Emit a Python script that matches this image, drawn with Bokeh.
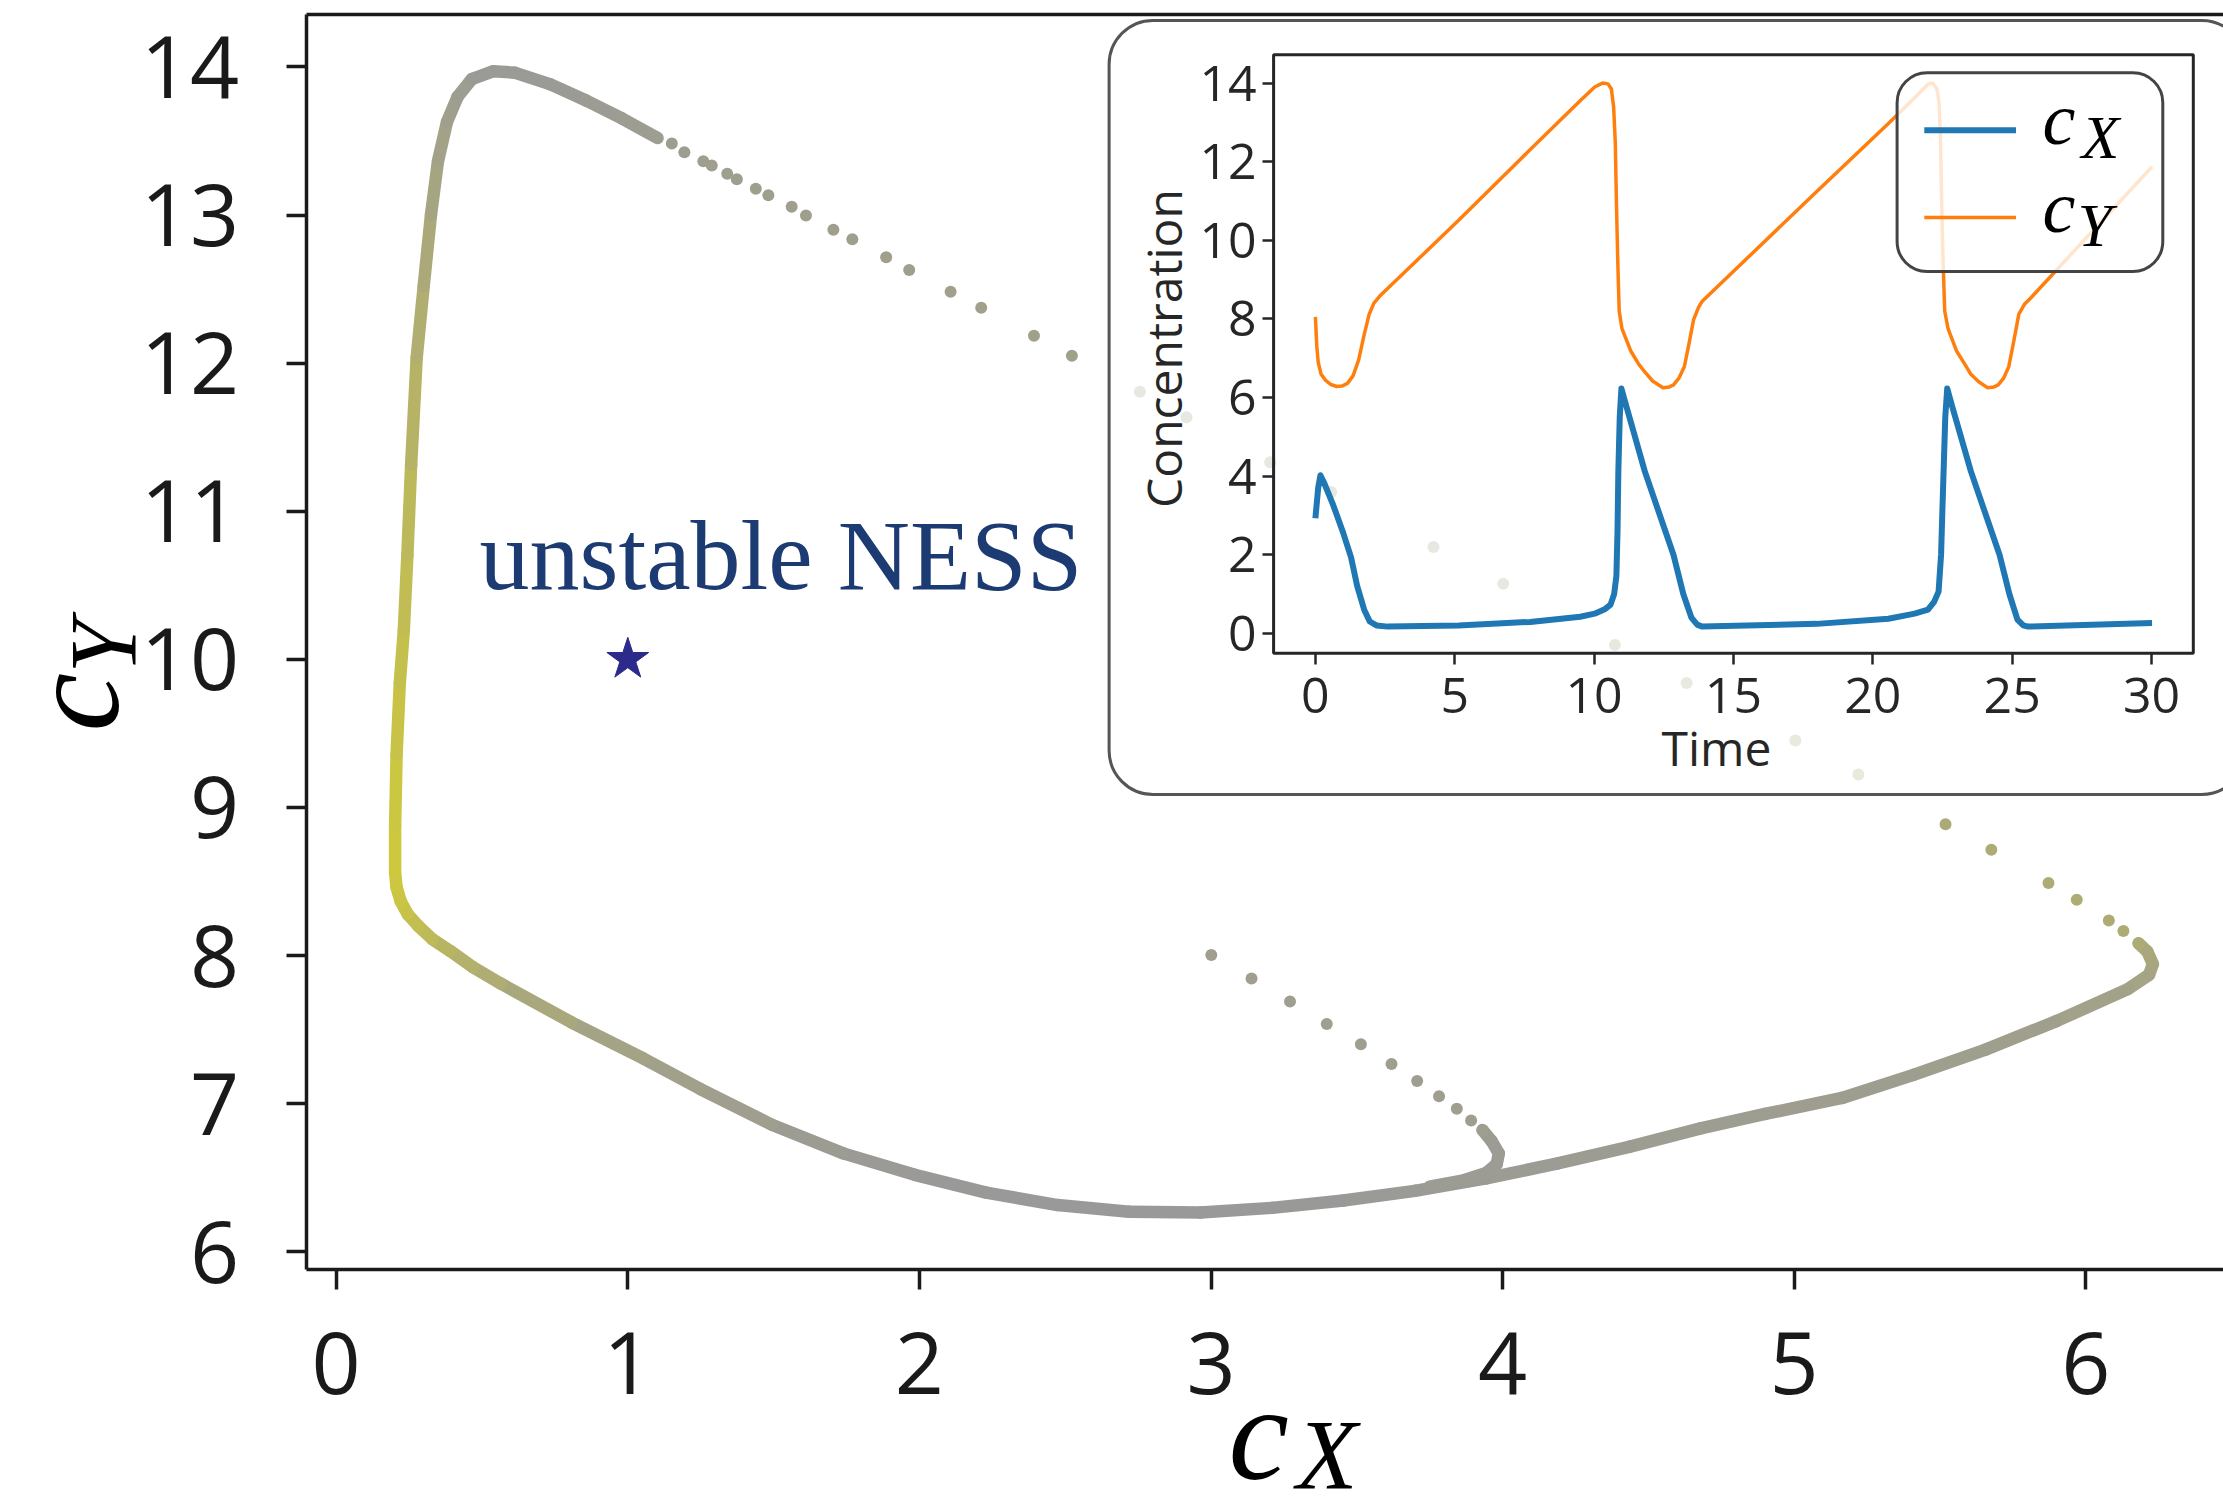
import numpy as np
from bokeh.plotting import figure
from bokeh.models import Range1d, LinearAxis, FixedTicker, ColumnDataSource, LinearColorMapper
from bokeh.transform import transform
from bokeh.core.properties import value
from bokeh.embed import file_html
from bokeh.resources import INLINE

# ------------------------------------------------------------------ data
# dense part of the limit cycle: c_X, c_Y and colour weight
cycle_cx = [6.181, 6.211, 6.230, 6.217, 6.144, 5.899, 5.654, 5.409, 5.164, 4.900,
            4.679, 4.434, 4.189, 3.944, 3.699, 3.454, 3.209, 2.964, 2.719, 2.474,
            2.229, 1.984, 1.739, 1.494, 1.249, 1.053, 0.808, 0.563, 0.470, 0.392,
            0.330, 0.282, 0.245, 0.221, 0.207, 0.202, 0.202, 0.207, 0.218, 0.232,
            0.244, 0.257, 0.276, 0.300, 0.325, 0.349, 0.380, 0.416, 0.465, 0.539,
            0.612, 0.735, 0.857, 0.980, 1.102]
cycle_cy = [8.082, 8.027, 7.942, 7.870, 7.773, 7.557, 7.363, 7.194, 7.038, 6.930,
            6.833, 6.708, 6.596, 6.495, 6.411, 6.346, 6.296, 6.265, 6.270, 6.315,
            6.399, 6.519, 6.664, 6.857, 7.098, 7.305, 7.547, 7.812, 7.920, 8.029,
            8.110, 8.198, 8.280, 8.367, 8.460, 8.560, 8.873, 9.355, 9.837, 10.200,
            10.700, 11.313, 12.037, 12.519, 13.001, 13.363, 13.629, 13.797, 13.918, 13.971,
            13.961, 13.882, 13.773, 13.652, 13.520]
cycle_w = [0.38, 0.35, 0.30, 0.26, 0.20, 0.15, 0.13, 0.11, 0.10, 0.09,
           0.08, 0.07, 0.06, 0.05, 0.04, 0.02, 0.00, 0.00, 0.00, 0.00,
           0.00, 0.02, 0.05, 0.09, 0.13, 0.17, 0.25, 0.38, 0.46, 0.55,
           0.65, 0.75, 0.83, 0.90, 0.96, 1.00, 1.00, 0.93, 0.86, 0.80,
           0.72, 0.62, 0.50, 0.40, 0.30, 0.22, 0.15, 0.10, 0.06, 0.03,
           0.02, 0.03, 0.05, 0.07, 0.09]

# sparse (fast) part of the cycle: sampled points
fast_cx = [1.151, 1.194, 1.259, 1.288, 1.341, 1.374, 1.439, 1.482, 1.562, 1.611,
           1.705, 1.770, 1.886, 1.965, 2.107, 2.212, 2.393, 2.523, 2.756, 2.916,
           3.203, 3.412, 3.763, 4.002, 4.385, 4.631, 5.004, 5.220, 5.519, 5.676,
           5.872, 5.969, 6.079, 6.129, 6.181]
fast_cy = [13.483, 13.423, 13.363, 13.334, 13.279, 13.242, 13.178, 13.134, 13.055, 12.997,
           12.900, 12.837, 12.714, 12.629, 12.481, 12.373, 12.184, 12.049, 11.807, 11.634,
           11.330, 11.129, 10.758, 10.510, 10.097, 9.840, 9.452, 9.222, 8.887, 8.714,
           8.490, 8.376, 8.236, 8.166, 8.082]
fast_w = [0.10, 0.10, 0.11, 0.11, 0.12, 0.12, 0.12, 0.12, 0.13, 0.13,
          0.13, 0.13, 0.14, 0.14, 0.15, 0.15, 0.16, 0.16, 0.18, 0.18,
          0.20, 0.20, 0.22, 0.23, 0.26, 0.27, 0.30, 0.32, 0.37, 0.38,
          0.39, 0.40, 0.40, 0.39, 0.38]

# transient from the initial condition (3, 8)
init_cx = [3.001, 3.139, 3.271, 3.397, 3.514, 3.619, 3.707, 3.782, 3.843, 3.892, 3.931]
init_cy = [8.003, 7.845, 7.689, 7.537, 7.400, 7.267, 7.153, 7.050, 6.966, 6.886, 6.821]
hook_cx = [3.931, 3.962, 3.987, 3.980, 3.944, 3.870, 3.750]
hook_cy = [6.821, 6.748, 6.664, 6.592, 6.532, 6.484, 6.440]
init_w = 0.11

# unstable non-equilibrium steady state
ness_cx = [1.0]
ness_cy = [10.0]

# inset time series
t_x = [0.00, 0.10, 0.18, 0.30, 0.64, 1.00, 1.28, 1.50, 1.75, 1.95, 2.19, 2.60, 5.14, 7.71,
       9.50, 10.02, 10.40, 10.59, 10.72, 10.80, 10.84, 10.87, 10.92, 10.98, 11.18, 11.82,
       12.85, 13.20, 13.49, 13.70, 13.88, 17.99, 20.56, 21.50, 21.98, 22.20, 22.36, 22.45,
       22.50, 22.54, 22.60, 22.67, 22.87, 23.52, 24.55, 24.90, 25.19, 25.40, 25.57, 30.02]
conc_x = [2.93, 3.70, 4.02, 3.85, 3.26, 2.55, 1.93, 1.20, 0.60, 0.30, 0.20, 0.17, 0.20, 0.29,
          0.42, 0.50, 0.62, 0.73, 1.00, 1.46, 2.60, 4.12, 5.50, 6.23, 5.72, 4.12,
          1.99, 1.00, 0.40, 0.22, 0.17, 0.24, 0.37, 0.50, 0.60, 0.80, 1.06, 2.00,
          3.20, 4.12, 5.50, 6.23, 5.72, 4.12, 1.99, 1.00, 0.35, 0.20, 0.17, 0.26]
t_y = [0.00, 0.05, 0.10, 0.20, 0.35, 0.55, 0.77, 0.95, 1.15, 1.35, 1.55, 1.75, 1.93, 2.10,
       2.31, 5.14, 7.71, 9.50, 10.02, 10.30, 10.50, 10.62, 10.70, 10.76, 10.80, 10.85, 10.90,
       11.00, 11.31, 11.60, 11.82, 12.10, 12.47, 12.70, 12.85, 13.05, 13.24, 13.40, 13.57,
       13.75, 13.88, 17.99, 20.56, 21.60, 21.98, 22.15, 22.30, 22.38, 22.43, 22.47, 22.52,
       22.58, 22.70, 23.00, 23.30, 23.52, 23.80, 24.11, 24.35, 24.50, 24.70, 24.88, 25.05,
       25.24, 25.45, 25.65, 30.02]
conc_y = [8.05, 7.30, 6.90, 6.60, 6.45, 6.33, 6.28, 6.29, 6.36, 6.55, 6.95, 7.60, 8.12, 8.40,
          8.58, 10.51, 12.31, 13.55, 13.90, 14.00, 13.98, 13.85, 13.40, 12.50, 11.00, 9.45, 8.20,
          7.75, 7.19, 6.85, 6.65, 6.42, 6.25, 6.27, 6.32, 6.50, 6.79, 7.35, 7.98,
          8.30, 8.45, 11.24, 12.97, 13.70, 13.97, 14.00, 13.85, 13.50, 12.50, 11.00, 9.50,
          8.20, 7.75, 7.19, 6.85, 6.59, 6.40, 6.25, 6.27, 6.32, 6.50, 6.79, 7.40,
          8.12, 8.38, 8.52, 11.87]

main_xticks = [0, 1, 2, 3, 4, 5, 6]
main_yticks = [6, 7, 8, 9, 10, 11, 12, 13, 14]
inset_xticks = [0, 5, 10, 15, 20, 25, 30]
inset_yticks = [0, 2, 4, 6, 8, 10, 12, 14]
legend_labels = [("c", "X"), ("c", "Y")]

# ------------------------------------------------------------------ layout (page pixels)
W, H = 2223, 1510


def mx(px): return (px - 335.7) / 291.6      # main plot, pixel -> c_X
def my(py): return 14 - (py - 66.4) / 148.1  # main plot, pixel -> c_Y
def ix(px): return (px - 1314.9) / 27.87     # inset, pixel -> time
def iy(py): return (632.8 - py) / 39.3       # inset, pixel -> concentration


SER_MID = 0.3375   # baseline -> middle offset (em), Liberation Serif
SAN_MID = 0.388    # baseline -> middle offset (em), Open Sans

p = figure(width=W, height=H, output_backend="svg", toolbar_location=None,
           x_range=Range1d(mx(0), mx(W)), y_range=Range1d(my(H), my(0)),
           x_axis_location=None, y_axis_location=None,
           min_border_left=0, min_border_right=0, min_border_top=0, min_border_bottom=0)
p.extra_x_ranges = {"ix": Range1d(ix(0), ix(W))}
p.extra_y_ranges = {"iy": Range1d(iy(H), iy(0))}
p.background_fill_color = "white"
p.border_fill_color = "white"
p.outline_line_color = None
p.grid.visible = False

AX = "#1a1a1a"
F_L, F_T, F_B = 305.7, 13.6, 1269.0   # main frame spines (pixels)

xax = LinearAxis(fixed_location=my(F_B), bounds=(mx(F_L), mx(W)), ticker=FixedTicker(ticks=main_xticks))
yax = LinearAxis(fixed_location=mx(F_L), bounds=(my(F_B), my(F_T)), ticker=FixedTicker(ticks=main_yticks))
tax = LinearAxis(fixed_location=my(F_T), bounds=(mx(F_L), mx(W)), ticker=FixedTicker(ticks=[]))
for ax in (xax, yax, tax):
    ax.axis_line_width = 3.5
    ax.axis_line_color = AX
    ax.major_tick_line_width = 3.5
    ax.major_tick_line_color = AX
    ax.major_tick_out = 20
    ax.major_tick_in = 0
    ax.minor_tick_line_color = None
    ax.major_label_text_font = "Open Sans"
    ax.major_label_text_font_size = "86px"
    ax.major_label_text_color = AX
xax.major_label_standoff = 42
yax.major_label_standoff = 47
p.add_layout(xax, "below")
p.add_layout(yax, "left")
p.add_layout(tax, "above")

# colour map for the trajectory (grey -> olive yellow)
lo = np.array([153, 153, 153])
hi = np.array([205, 200, 62])
palette = ["#%02x%02x%02x" % tuple(int(round(c)) for c in lo + (hi - lo) * k / 255.0) for k in range(256)]
cmap = LinearColorMapper(palette=palette, low=0.0, high=1.0)

sx, sy, sw = [], [], []
for i in range(len(cycle_cx) - 1):
    sx.append([cycle_cx[i], cycle_cx[i + 1]])
    sy.append([cycle_cy[i], cycle_cy[i + 1]])
    sw.append((cycle_w[i] + cycle_w[i + 1]) / 2)
for i in range(len(hook_cx) - 1):
    sx.append([hook_cx[i], hook_cx[i + 1]])
    sy.append([hook_cy[i], hook_cy[i + 1]])
    sw.append(0.06)
p.multi_line("xs", "ys", source=ColumnDataSource(dict(xs=sx, ys=sy, w=sw)), line_width=12.5,
             line_cap="round", line_join="round", line_color=transform("w", cmap))

dots = ColumnDataSource(dict(x=fast_cx + init_cx, y=fast_cy + init_cy,
                             w=fast_w + [init_w] * len(init_cx)))
p.scatter("x", "y", source=dots, size=12, line_color=None, fill_color=transform("w", cmap))

p.scatter(ness_cx, ness_cy, marker="star", size=44, fill_color="#2c2a8a", line_color="#2c2a8a")


def txt(xp, yp_base, s, font, fs, k, color="black", style="normal", align="left", angle=0.0, inset=False):
    """place text with its baseline at page pixel yp_base (or x for rotated text)."""
    if angle:
        xp_mid, yp_mid = xp - k * fs, yp_base
    else:
        xp_mid, yp_mid = xp, yp_base - k * fs
    if inset:
        kw = dict(x=[ix(xp_mid)], y=[iy(yp_mid)], x_range_name="ix", y_range_name="iy")
    else:
        kw = dict(x=[mx(xp_mid)], y=[my(yp_mid)])
    p.text(text=[s], text_font=value(font), text_font_size=value("%dpx" % fs), text_color=color,
           text_font_style=style, text_baseline="middle", text_align=align, angle=angle, **kw)


SERIF = "Liberation Serif"
txt(479, 589, "unstable NESS", SERIF, 100, SER_MID, color="#1d3b73")

# main axis labels (math-style italic), kept fully inside the canvas
txt(1228, 1478, "c", SERIF, 136, SER_MID, style="italic")
txt(1296, 1488, "X", SERIF, 100, SER_MID, style="italic")
txt(118, 731, "c", SERIF, 132, SER_MID, style="italic", angle=np.pi / 2)
txt(135, 673, "Y", SERIF, 96, SER_MID, style="italic", angle=np.pi / 2)

# ------------------------------------------------------------------ inset
R = dict(x_range_name="ix", y_range_name="iy")
p.quad(left=[ix(1108.6)], right=[ix(2245)], top=[iy(19.9)], bottom=[iy(794)],
       fill_color="white", fill_alpha=0.75, line_color="#555555", line_width=3,
       border_radius=44, **R)
p.quad(left=[-1.5], right=[31.5], top=[14.72], bottom=[-0.506],
       fill_color=None, line_color="#262626", line_width=3, **R)

p.line(t_x, conc_x, line_color="#1f77b4", line_width=6, line_join="round", **R)
p.line(t_y, conc_y, line_color="#ff7f0e", line_width=3.5, line_join="round", **R)

IC = "#262626"
xa = LinearAxis(x_range_name="ix", y_range_name="iy", fixed_location=-0.506,
                ticker=FixedTicker(ticks=inset_xticks))
ya = LinearAxis(x_range_name="ix", y_range_name="iy", fixed_location=-1.5,
                ticker=FixedTicker(ticks=inset_yticks))
for ax in (xa, ya):
    ax.axis_line_color = None
    ax.major_tick_line_width = 2.5
    ax.major_tick_line_color = IC
    ax.major_tick_out = 11
    ax.major_tick_in = 0
    ax.minor_tick_line_color = None
    ax.major_label_text_font = "Open Sans"
    ax.major_label_text_font_size = "50px"
    ax.major_label_text_color = IC
xa.major_label_standoff = 14
ya.major_label_standoff = 6
p.add_layout(xa, "below")
p.add_layout(ya, "left")

txt(1716, 766, "Time", "Open Sans", 48, SAN_MID, color=IC, align="center", inset=True)
txt(1182, 348, "Concentration", "Open Sans", 48, SAN_MID, color=IC, align="center",
    angle=np.pi / 2, inset=True)

# legend
p.quad(left=[ix(1896.6)], right=[ix(2162.3)], top=[iy(72.2)], bottom=[iy(271)],
       fill_color="white", fill_alpha=0.8, line_color="#444444", line_width=3,
       border_radius=30, **R)
p.line([ix(1923.8), ix(2015.5)], [iy(129.7), iy(129.7)], line_color="#1f77b4", line_width=6, **R)
p.line([ix(1923.8), ix(2015.5)], [iy(217), iy(217)], line_color="#ff7f0e", line_width=3.5, **R)
for (main, sub), base, subx in zip(legend_labels, (143, 231), (2081, 2077)):
    txt(2042, base, main, SERIF, 74, SER_MID, style="italic", inset=True)
    txt(subx, base + 14, sub, SERIF, 62, SER_MID, style="italic", inset=True)

open("out.html", "w").write(file_html(p, INLINE))
